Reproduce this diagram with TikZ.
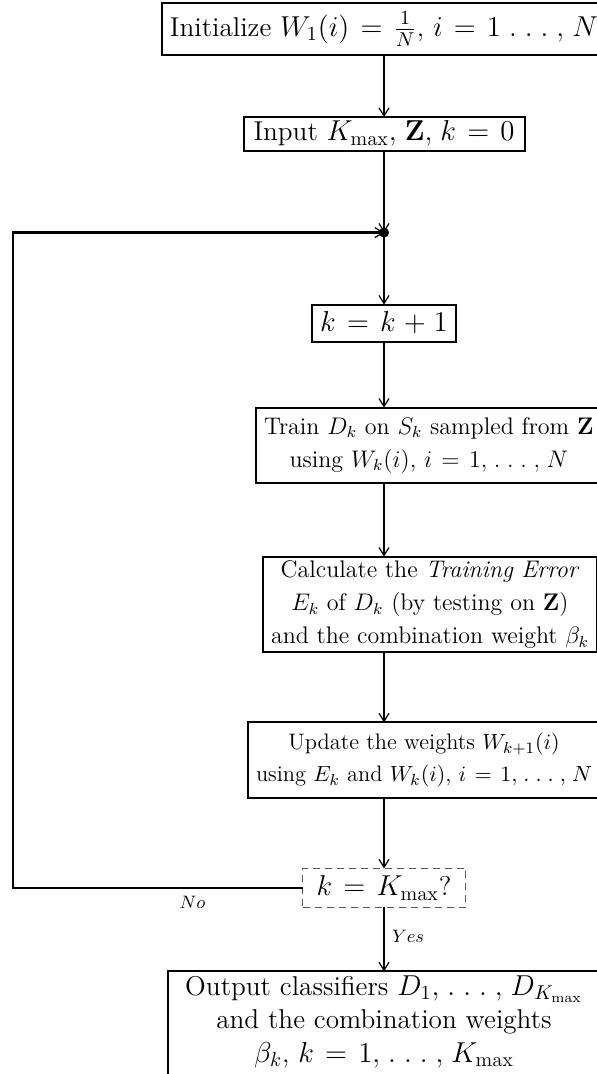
\documentclass[tikz,border=0pt]{standalone}
\usetikzlibrary{arrows.meta,positioning}
\thinmuskip=5mu
\medmuskip=5mu plus 2mu minus 4mu
\thickmuskip=7mu plus 5mu

\begin{document}
\begin{tikzpicture}[x=0.5pt,y=-0.5pt,box/.style={draw,line width=1pt,outer sep=0pt,inner xsep=4pt,inner ysep=2pt,align=center,font=\fontsize{13.6}{16.5}\selectfont},longbox/.style={box,font=\fontsize{12}{16.5}\selectfont},ask/.style={box,draw=black!65,line width=0.7pt,dash pattern=on 3.5pt off 2.5pt},lbl/.style={font=\fontsize{9.5}{11}\selectfont},arrow/.style={-{Straight Barb[length=4pt,width=5pt,line width=0.6pt]},line width=1.4pt}]
\useasboundingbox (0,0) rectangle (597,1074);
\node[box,anchor=north,minimum width=219pt,minimum height=26pt] (init) at (384,3) {Initialize $W_1(i)=\frac{1}{N}$, $i=1\ldots,N$};
\node[box,below=31pt of init,minimum width=140.5pt,minimum height=16pt] (input) {Input $K_{\max},\mathbf{Z},k=0$};
\coordinate[below=41pt of input] (join);
\node[box,below=36pt of join,minimum width=69pt,minimum height=18.5pt] (kbox) {$k=k+1$};
\node[longbox,below=33pt of kbox,anchor=north west,xshift=-64pt,minimum width=172pt,minimum height=37.5pt] (train) {Train $D_k$ on $S_k$ sampled from $\mathbf{Z}$\\using $W_k(i)$, $i=1,\ldots,N$};
\node[longbox,below=37pt of train.south-|kbox,anchor=north west,xshift=-60.5pt,minimum width=164.5pt,minimum height=46.5pt] (calc) {Calculate the \textit{Training Error}\\$E_k$ of $D_k$ (by testing on $\mathbf{Z}$)\\and the combination weight $\beta_k$};
\node[longbox,below=35pt of calc.south-|kbox,anchor=north west,xshift=-68pt,minimum width=176pt,minimum height=38pt,font=\fontsize{11.2}{16}\selectfont] (update) {Update the weights $W_{k+1}(i)$\\using $E_k$ and $W_k(i)$, $i=1,\ldots,N$};
\node[ask,below=35pt of update.south-|kbox,anchor=north,minimum width=81.5pt,minimum height=19.5pt] (ask) {$k=K_{\max}$?};
\node[box,below=32pt of ask,minimum width=216pt,font=\fontsize{13.6}{16.75}\selectfont] (output) {Output classifiers $D_1,\ldots,D_{K_{\max}}$\\and the combination weights\\$\beta_k$, $k=1,\ldots,K_{\max}$\rule[-11pt]{0pt}{1pt}};
\coordinate (corner) at (13,0);
\draw[arrow] (init)--(input); \draw[arrow] (input)--(join); \draw[arrow] (join)--(kbox); \fill (join) circle (2.5pt);
\draw[arrow] (kbox)--(kbox|-train.north); \draw[arrow] (train.south-|kbox)--(kbox|-calc.north); \draw[arrow] (calc.south-|kbox)--(kbox|-update.north); \draw[arrow] (update.south-|kbox)--(ask);
\draw[arrow] (ask)--node[lbl,right,pos=0.45]{$Yes$} (output);
\draw[arrow] (ask.west)--node[lbl,below,pos=0.38]{$No$} (ask.west-|corner) |- (join);
\end{tikzpicture}
\end{document}
